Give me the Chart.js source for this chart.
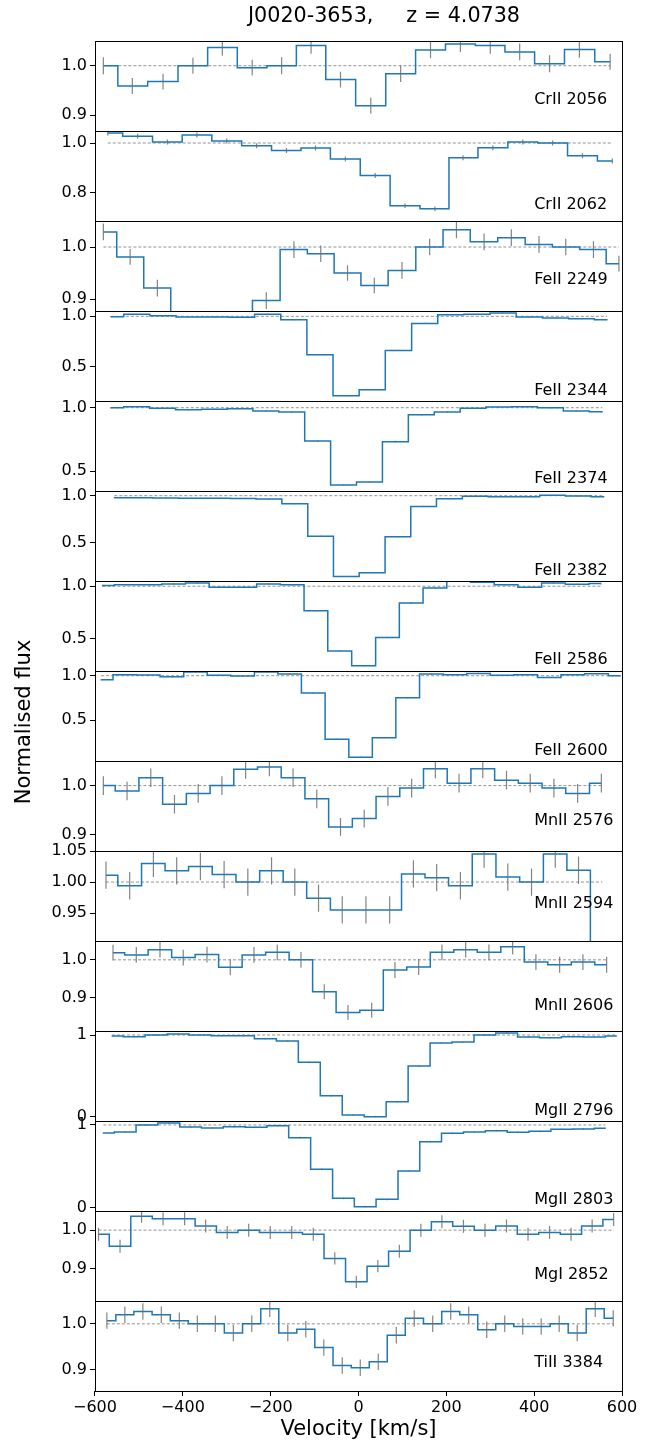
<!DOCTYPE html>
<html>
<head>
<meta charset="utf-8">
<script src="https://cdn.jsdelivr.net/npm/chart.js@4.4.1/dist/chart.umd.min.js"></script>
<style>
  html, body { margin: 0; padding: 0; background: #fff; }
  canvas { display: block; }
</style>
</head>
<body>
<canvas id="velplot" width="665" height="1445"></canvas>
<script>
// transitions, top to bottom
const lineNames = ['CrII 2056', 'CrII 2062', 'FeII 2249', 'FeII 2344', 'FeII 2374',
  'FeII 2382', 'FeII 2586', 'FeII 2600', 'MnII 2576', 'MnII 2594', 'MnII 2606',
  'MgII 2796', 'MgII 2803', 'MgI 2852', 'TiII 3384'];

// velocity [km/s], normalised flux and 1-sigma error for every transition
const velCr2056 = [-581, -515, -445, -377, -310, -242, -175, -108, -41, 28, 96, 164, 232, 300, 367, 435, 503, 573];
const fluxCr2056 = [1.0, 0.959, 0.968, 1.0, 1.037, 0.996, 1.0, 1.041, 0.972, 0.919, 0.984, 1.032, 1.044, 1.041, 1.028, 1.004, 1.033, 1.008];
const errCr2056 = [0.017, 0.016, 0.016, 0.016, 0.017, 0.016, 0.017, 0.017, 0.016, 0.016, 0.017, 0.017, 0.016, 0.017, 0.017, 0.017, 0.017, 0.016];

const velCr2062 = [-571, -503, -435, -368, -300, -232, -164, -98, -30, 38, 106, 174, 238, 306, 374, 442, 510, 578];
const fluxCr2062 = [1.040, 1.027, 1.004, 1.032, 1.008, 0.989, 0.970, 0.980, 0.936, 0.870, 0.749, 0.737, 0.941, 0.981, 1.004, 1.0, 0.949, 0.928];
const errCr2062 = [0.010, 0.010, 0.010, 0.010, 0.010, 0.010, 0.010, 0.010, 0.010, 0.010, 0.009, 0.009, 0.010, 0.010, 0.010, 0.010, 0.010, 0.010];

const velFe2249 = [-581, -520, -458, -397, -334, -273, -210, -147, -86, -25, 36, 99, 162, 223, 286, 348, 411, 472, 535, 593];
const fluxFe2249 = [1.029, 0.981, 0.921, 0.80, 0.78, 0.80, 0.897, 0.995, 0.987, 0.950, 0.926, 0.955, 1.0, 1.033, 1.010, 1.018, 1.005, 1.0, 0.995, 0.968];
const errFe2249 = [0.016, 0.015, 0.016, 0.015, 0.015, 0.015, 0.016, 0.016, 0.016, 0.015, 0.015, 0.016, 0.016, 0.016, 0.016, 0.016, 0.016, 0.016, 0.016, 0.015];

const velFe2344 = [-564, -505, -445, -386, -326, -266, -207, -147, -88, -28, 31, 91, 151, 210, 270, 329, 389, 449, 508, 566];
const fluxFe2344 = [0.997, 1.02, 1.007, 0.993, 0.993, 0.99, 1.02, 0.967, 0.619, 0.212, 0.272, 0.662, 0.93, 1.017, 1.02, 1.033, 0.993, 0.983, 0.977, 0.967];
const errFe2344 = [0.006, 0.006, 0.006, 0.006, 0.006, 0.006, 0.006, 0.006, 0.006, 0.005, 0.005, 0.006, 0.006, 0.006, 0.006, 0.006, 0.006, 0.006, 0.006, 0.006];

const velFe2374 = [-564, -505, -446, -387, -328, -270, -211, -152, -93, -34, 25, 84, 143, 202, 261, 319, 378, 437, 496, 555];
const fluxFe2374 = [1.0, 1.008, 0.995, 0.984, 0.987, 0.992, 0.974, 0.966, 0.737, 0.389, 0.413, 0.732, 0.945, 0.966, 0.995, 1.005, 1.008, 1.0, 0.974, 0.968];
const errFe2374 = [0.006, 0.006, 0.006, 0.006, 0.006, 0.006, 0.006, 0.006, 0.006, 0.005, 0.005, 0.006, 0.006, 0.006, 0.006, 0.006, 0.006, 0.006, 0.006, 0.006];

const velFe2382 = [-556, -497, -439, -380, -321, -263, -204, -145, -86, -28, 31, 90, 148, 207, 266, 324, 383, 442, 500, 559];
const fluxFe2382 = [0.979, 0.979, 0.975, 0.972, 0.972, 0.971, 0.964, 0.914, 0.568, 0.139, 0.179, 0.561, 0.886, 0.968, 0.993, 0.989, 0.989, 1.004, 0.996, 0.989];
const errFe2382 = [0.006, 0.006, 0.006, 0.006, 0.006, 0.006, 0.006, 0.006, 0.006, 0.005, 0.005, 0.006, 0.006, 0.006, 0.006, 0.006, 0.006, 0.006, 0.006, 0.006];

const velFe2586 = [-583, -529, -475, -421, -367, -313, -259, -205, -151, -97, -43, 12, 66, 120, 174, 228, 282, 336, 390, 444, 498, 552];
const fluxFe2586 = [1.006, 1.013, 1.013, 1.022, 1.032, 0.99, 0.99, 1.022, 1.013, 0.766, 0.380, 0.241, 0.510, 0.839, 0.984, 1.06, 1.038, 1.013, 0.99, 1.032, 1.019, 1.025];
const errFe2586 = [0.008, 0.008, 0.008, 0.008, 0.008, 0.008, 0.008, 0.008, 0.008, 0.008, 0.007, 0.007, 0.008, 0.008, 0.008, 0.008, 0.008, 0.008, 0.008, 0.008, 0.008, 0.008];

const velFe2600 = [-586, -532, -479, -425, -371, -318, -264, -210, -157, -103, -49, 5, 58, 112, 166, 220, 273, 327, 381, 434, 488, 542, 596];
const fluxFe2600 = [0.955, 1.011, 1.008, 0.989, 1.041, 1.004, 0.996, 1.041, 1.019, 0.805, 0.286, 0.083, 0.301, 0.752, 1.019, 1.011, 1.026, 1.004, 1.011, 0.981, 1.011, 1.023, 1.0];
const errFe2600 = [0.008, 0.008, 0.008, 0.008, 0.008, 0.008, 0.008, 0.008, 0.008, 0.008, 0.007, 0.007, 0.007, 0.008, 0.008, 0.008, 0.008, 0.008, 0.008, 0.008, 0.008, 0.008, 0.008];

const velMn2576 = [-581, -527, -473, -419, -365, -311, -257, -203, -149, -95, -41, 13, 67, 121, 175, 229, 283, 337, 391, 445, 499, 553];
const fluxMn2576 = [1.0, 0.989, 1.016, 0.962, 0.984, 1.0, 1.033, 1.038, 1.016, 0.973, 0.916, 0.933, 0.978, 0.995, 1.034, 1.005, 1.034, 1.011, 1.005, 0.995, 0.984, 1.005];
const errMn2576 = [0.019, 0.019, 0.019, 0.019, 0.019, 0.019, 0.019, 0.019, 0.019, 0.019, 0.018, 0.018, 0.019, 0.019, 0.019, 0.019, 0.019, 0.019, 0.019, 0.019, 0.019, 0.019];

const velMn2594 = [-575, -521, -467, -414, -360, -306, -252, -198, -145, -91, -37, 17, 71, 125, 178, 232, 286, 340, 394, 448, 501, 555];
const fluxMn2594 = [1.011, 0.994, 1.030, 1.018, 1.025, 1.012, 1.0, 1.018, 1.0, 0.974, 0.955, 0.955, 0.955, 1.013, 1.007, 0.994, 1.045, 1.008, 1.0, 1.045, 1.019, 0.85];
const errMn2594 = [0.022, 0.022, 0.022, 0.022, 0.022, 0.022, 0.022, 0.022, 0.022, 0.022, 0.022, 0.022, 0.022, 0.022, 0.022, 0.022, 0.022, 0.022, 0.022, 0.022, 0.022, 0.022];

const velMn2606 = [-559, -506, -452, -399, -345, -292, -238, -185, -131, -78, -24, 30, 83, 137, 190, 244, 297, 351, 404, 458, 511, 565];
const fluxMn2606 = [1.019, 1.013, 1.027, 1.006, 1.014, 0.980, 1.013, 1.020, 1.0, 0.915, 0.860, 0.866, 0.973, 0.981, 1.020, 1.027, 1.020, 1.035, 0.994, 0.987, 0.994, 0.987];
const errMn2606 = [0.021, 0.021, 0.021, 0.021, 0.021, 0.021, 0.021, 0.021, 0.021, 0.020, 0.020, 0.020, 0.021, 0.021, 0.021, 0.021, 0.021, 0.021, 0.021, 0.021, 0.021, 0.021];

const velMg2796 = [-561, -511, -461, -411, -361, -311, -262, -212, -162, -112, -62, -12, 38, 88, 138, 188, 238, 288, 337, 387, 437, 487, 537, 587];
const fluxMg2796 = [0.988, 0.98, 1.0, 1.012, 1.0, 0.992, 0.992, 0.955, 0.927, 0.665, 0.257, 0.020, 0.0, 0.184, 0.620, 0.902, 0.914, 1.0, 1.024, 0.976, 0.967, 0.98, 0.976, 0.988];
const errMg2796 = [0.01, 0.01, 0.01, 0.01, 0.01, 0.01, 0.01, 0.01, 0.01, 0.01, 0.01, 0.01, 0.01, 0.01, 0.01, 0.01, 0.01, 0.01, 0.01, 0.01, 0.01, 0.01, 0.01, 0.01];

const velMg2803 = [-581, -531, -482, -432, -382, -333, -283, -233, -184, -134, -84, -34, 15, 65, 115, 164, 214, 264, 314, 363, 413, 463, 512, 562];
const fluxMg2803 = [0.903, 0.915, 1.0, 1.024, 0.976, 0.964, 0.98, 0.972, 0.992, 0.847, 0.464, 0.113, 0.012, 0.101, 0.444, 0.798, 0.899, 0.915, 0.931, 0.911, 0.923, 0.948, 0.952, 0.960];
const errMg2803 = [0.01, 0.01, 0.01, 0.01, 0.01, 0.01, 0.01, 0.01, 0.01, 0.01, 0.01, 0.01, 0.01, 0.01, 0.01, 0.01, 0.01, 0.01, 0.01, 0.01, 0.01, 0.01, 0.01, 0.01];

const velMg2852 = [-592, -543, -494, -445, -396, -348, -299, -250, -201, -152, -103, -54, -5, 44, 93, 142, 190, 239, 288, 337, 386, 435, 484, 532, 581];
const fluxMg2852 = [0.989, 0.958, 1.036, 1.030, 1.030, 1.011, 0.994, 1.0, 0.994, 0.994, 0.989, 0.926, 0.865, 0.906, 0.945, 1.0, 1.022, 1.010, 1.0, 1.011, 0.989, 0.994, 0.989, 1.011, 1.028];
const errMg2852 = [0.017, 0.017, 0.017, 0.017, 0.017, 0.017, 0.017, 0.017, 0.017, 0.017, 0.017, 0.016, 0.016, 0.016, 0.017, 0.017, 0.017, 0.017, 0.017, 0.017, 0.017, 0.017, 0.017, 0.017, 0.017];

const velTi3384 = [-573, -532, -491, -449, -408, -367, -326, -285, -243, -202, -161, -120, -79, -37, 4, 45, 86, 127, 169, 210, 251, 292, 333, 374, 416, 457, 498, 539, 580];
const fluxTi3384 = [1.007, 1.020, 1.027, 1.020, 1.007, 1.0, 1.0, 0.980, 1.0, 1.033, 0.980, 0.988, 0.948, 0.909, 0.904, 0.917, 0.975, 1.012, 1.0, 1.027, 1.020, 0.987, 1.0, 0.994, 0.994, 1.0, 0.980, 1.033, 1.012];
const errTi3384 = [0.018, 0.018, 0.018, 0.018, 0.018, 0.018, 0.018, 0.018, 0.018, 0.018, 0.018, 0.018, 0.018, 0.018, 0.018, 0.018, 0.018, 0.018, 0.018, 0.018, 0.018, 0.018, 0.018, 0.018, 0.018, 0.018, 0.018, 0.018, 0.018];

// y limits and tick labels per panel
const yMin = [0.868, 0.688, 0.877, 0.16, 0.342, 0.09, 0.19, 0.04, 0.867, 0.905, 0.811, -0.053, -0.04, 0.815, 0.853];
const yMax = [1.050, 1.048, 1.050, 1.053, 1.053, 1.05, 1.05, 1.053, 1.050, 1.05, 1.050, 1.049, 1.048, 1.050, 1.050];
const yTicks = [[0.9, 1.0], [0.8, 1.0], [0.9, 1.0], [0.5, 1.0], [0.5, 1.0], [0.5, 1.0], [0.5, 1.0], [0.5, 1.0],
  [0.9, 1.0], [0.95, 1.0, 1.05], [0.9, 1.0], [0, 1], [0, 1], [0.9, 1.0], [0.9, 1.0]];
const yTickLabels = [['0.9', '1.0'], ['0.8', '1.0'], ['0.9', '1.0'], ['0.5', '1.0'], ['0.5', '1.0'], ['0.5', '1.0'],
  ['0.5', '1.0'], ['0.5', '1.0'], ['0.9', '1.0'], ['0.95', '1.00', '1.05'], ['0.9', '1.0'], ['0', '1'], ['0', '1'],
  ['0.9', '1.0'], ['0.9', '1.0']];
const xTicks = [-600, -400, -200, 0, 200, 400, 600];

const velocities = [velCr2056, velCr2062, velFe2249, velFe2344, velFe2374, velFe2382, velFe2586, velFe2600,
  velMn2576, velMn2594, velMn2606, velMg2796, velMg2803, velMg2852, velTi3384];
const fluxes = [fluxCr2056, fluxCr2062, fluxFe2249, fluxFe2344, fluxFe2374, fluxFe2382, fluxFe2586, fluxFe2600,
  fluxMn2576, fluxMn2594, fluxMn2606, fluxMg2796, fluxMg2803, fluxMg2852, fluxTi3384];
const errors = [errCr2056, errCr2062, errFe2249, errFe2344, errFe2374, errFe2382, errFe2586, errFe2600,
  errMn2576, errMn2594, errMn2606, errMg2796, errMg2803, errMg2852, errTi3384];

// label placement (px above each panel's bottom edge) and where its text starts, in km/s
const labelLift = [31, 16, 31, 10, 12, 10, 11, 10, 30, 37, 25, 10, 11, 26, 28];
const labelVel = 400;

const FONT = 'DejaVu Sans';
const tickFont = { family: FONT, size: 16 };

const datasets = [];
lineNames.forEach((name, i) => {
  const v = velocities[i], f = fluxes[i], e = errors[i];
  const yid = 'y' + i;
  // continuum
  datasets.push({
    data: [{ x: v[0], y: 1 }, { x: v[v.length - 1], y: 1 }],
    yAxisID: yid, borderColor: '#777', borderWidth: 0.8, borderDash: [3, 2],
    pointRadius: 0, order: 2, panelClip: true
  });
  // flux
  datasets.push({
    label: name,
    data: v.map((x, k) => ({ x: x, y: f[k] })),
    yAxisID: yid, borderColor: '#1f77b4', borderWidth: 1.5, stepped: 'middle',
    pointRadius: 0, order: 1, panelClip: true
  });
  // error bars as broken segments
  const bars = [];
  v.forEach((x, k) => {
    bars.push({ x: x, y: f[k] - e[k] }, { x: x, y: f[k] + e[k] }, { x: x, y: null });
  });
  datasets.push({
    data: bars, yAxisID: yid, borderColor: 'rgba(110,110,110,0.85)', borderWidth: 1.2,
    pointRadius: 0, order: 0, spanGaps: false
  });
});

const scales = {
  x: {
    type: 'linear', min: -600, max: 600,
    afterBuildTicks: s => { s.ticks = xTicks.map(t => ({ value: t })); },
    afterFit: s => { s.height = 54; },
    ticks: {
      color: '#000', font: tickFont, padding: 2, maxRotation: 0, autoSkip: false,
      callback: t => String(t).replace('-', '\u2212')
    },
    grid: { drawOnChartArea: false, drawTicks: true, tickLength: 5, color: '#000', lineWidth: 1 },
    border: { display: false }
  }
};
lineNames.forEach((name, i) => {
  scales['y' + i] = {
    type: 'linear', position: 'left', stack: 'panels', stackWeight: 1, weight: lineNames.length - i,
    min: yMin[i], max: yMax[i],
    afterBuildTicks: s => { s.ticks = yTicks[i].map(t => ({ value: t })); },
    afterFit: s => { s.width = 95; },
    ticks: {
      color: '#000', font: tickFont, padding: 3, autoSkip: false,
      callback: (t, k) => yTickLabels[i][k]
    },
    grid: { drawOnChartArea: false, drawTicks: true, tickLength: 5, color: '#000', lineWidth: 1 },
    border: { display: false }
  };
});

// keep each flux curve inside its own panel
const panelClip = {
  id: 'panelClip',
  beforeDatasetDraw(chart, args) {
    const ds = chart.data.datasets[args.index];
    if (!ds.panelClip) return;
    const s = chart.scales[ds.yAxisID];
    const a = chart.chartArea;
    chart.ctx.save();
    chart.ctx.beginPath();
    chart.ctx.rect(a.left, s.top, a.right - a.left, s.bottom - s.top);
    chart.ctx.clip();
  },
  afterDatasetDraw(chart, args) {
    if (chart.data.datasets[args.index].panelClip) chart.ctx.restore();
  }
};

// frames, line names, title and axis labels
const decorations = {
  id: 'decorations',
  afterDraw(chart) {
    const ctx = chart.ctx;
    const a = chart.chartArea;
    const xs = chart.scales.x;
    ctx.save();
    ctx.strokeStyle = '#000';
    ctx.lineWidth = 1;
    lineNames.forEach((name, i) => {
      const s = chart.scales['y' + i];
      ctx.strokeRect(Math.round(a.left) + 0.5, Math.round(s.top) + 0.5,
        Math.round(a.right - a.left), Math.round(s.bottom - s.top));
      ctx.fillStyle = '#000';
      ctx.font = '16px "' + FONT + '"';
      ctx.textAlign = 'left';
      ctx.textBaseline = 'middle';
      ctx.fillText(name, xs.getPixelForValue(labelVel), s.bottom - labelLift[i]);
    });
    ctx.textAlign = 'center';
    ctx.textBaseline = 'middle';
    ctx.font = '20.7px "' + FONT + '"';
    ctx.fillText('J0020-3653,     z = 4.0738', 384, 17);
    ctx.font = '21px "' + FONT + '"';
    ctx.fillText('Velocity [km/s]', (a.left + a.right) / 2, 1430);
    ctx.translate(25, 722);
    ctx.rotate(-Math.PI / 2);
    ctx.fillText('Normalised flux', 0, 0);
    ctx.restore();
  }
};

new Chart(document.getElementById('velplot'), {
  type: 'line',
  data: { datasets: datasets },
  options: {
    responsive: false,
    devicePixelRatio: 1,
    animation: false,
    layout: { padding: { top: 41, right: 43, bottom: 0, left: 0 } },
    plugins: { legend: { display: false }, tooltip: { enabled: false }, title: { display: false } },
    scales: scales
  },
  plugins: [panelClip, decorations]
});
</script>
</body>
</html>
